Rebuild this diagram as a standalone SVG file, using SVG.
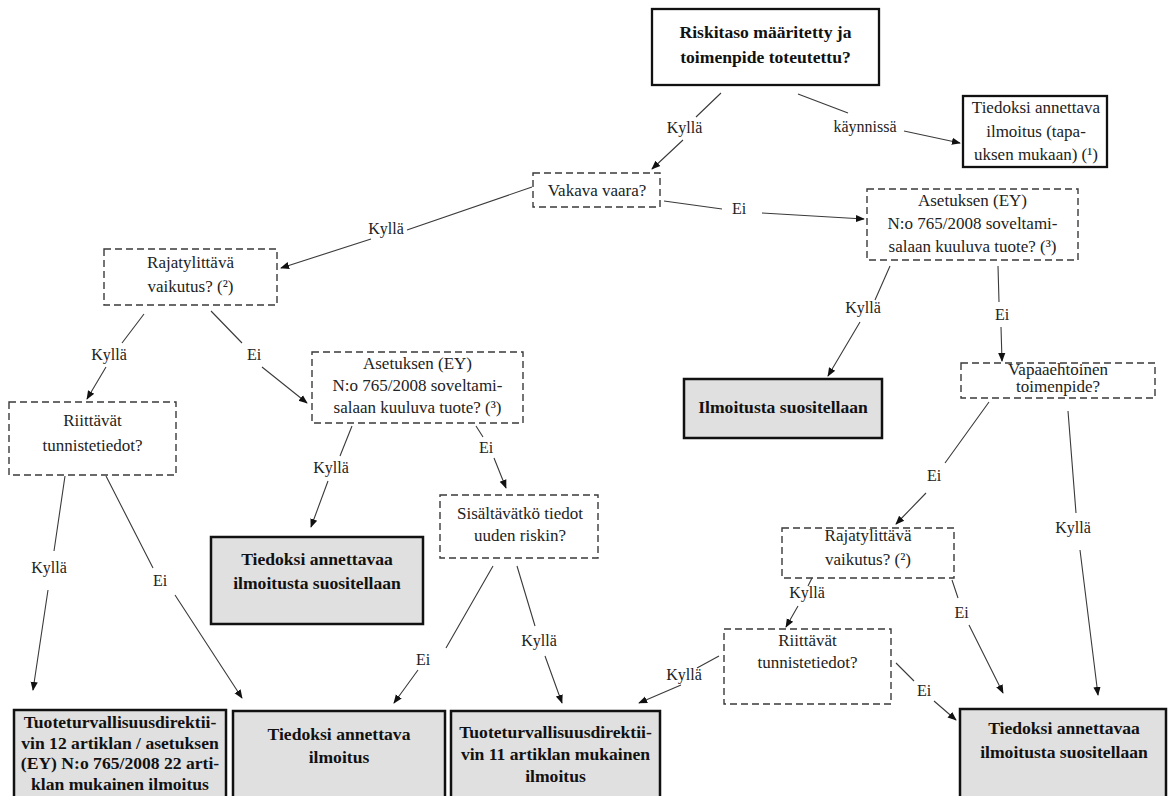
<svg xmlns="http://www.w3.org/2000/svg" width="1170" height="796" viewBox="0 0 1170 796">
<defs>
<marker id="ah" viewBox="0 0 10 10" refX="9" refY="5" markerWidth="9" markerHeight="9" markerUnits="userSpaceOnUse" orient="auto">
<path d="M0,1 L10,5 L0,9 Z" fill="#111"/>
</marker>
<style>
.q{fill:#fff;stroke:#3a3a3a;stroke-width:1.4;stroke-dasharray:7 4}
.w{fill:#fff;stroke:#111;stroke-width:2.3}
.g{fill:#e0e0e0;stroke:#111;stroke-width:2.5}
.t{font-family:"Liberation Serif","DejaVu Serif",serif;font-size:17px;fill:#222;text-anchor:middle}
.b{font-family:"Liberation Serif","DejaVu Serif",serif;font-size:17.6px;font-weight:bold;fill:#111;text-anchor:middle}
.l{font-family:"Liberation Serif","DejaVu Serif",serif;font-size:16px;fill:#222;text-anchor:middle}
.c{fill:none;stroke:#3a3a3a;stroke-width:1.1}
</style>
</defs>
<rect width="1170" height="796" fill="#fff"/>

<g id="connectors">
<path class="c" d="M721,93 L696,117 M683,140 L652,169" marker-end="url(#ah)"/>
<path class="c" d="M798,94 L848,113 M904,131 L960,143" marker-end="url(#ah)"/>
<path class="c" d="M664,201 L722,209 M762,213 L864,219" marker-end="url(#ah)"/>
<path class="c" d="M532,187 L407,230 M371,239 L281,268" marker-end="url(#ah)"/>
<path class="c" d="M890,266 L875,300 M860,322 L828,376" marker-end="url(#ah)"/>
<path class="c" d="M998,266 L999,302 M1001,327 L1002,361" marker-end="url(#ah)"/>
<path class="c" d="M144,314 L122,343 M106,367 L87,399" marker-end="url(#ah)"/>
<path class="c" d="M211,311 L242,343 M262,367 L307,403" marker-end="url(#ah)"/>
<path class="c" d="M352,426 L340,456 M328,481 L311,527" marker-end="url(#ah)"/>
<path class="c" d="M476,426 L483,437 M494,458 L506,488" marker-end="url(#ah)"/>
<path class="c" d="M989,402 L945,463 M926,493 L896,524" marker-end="url(#ah)"/>
<path class="c" d="M1068,411 L1076,513 M1080,550 L1098,695" marker-end="url(#ah)"/>
<path class="c" d="M65,476 L54,551 M48,590 L33,690" marker-end="url(#ah)"/>
<path class="c" d="M106,476 L153,568 M175,595 L242,698" marker-end="url(#ah)"/>
<path class="c" d="M493,566 L446,648 M418,670 L394,703" marker-end="url(#ah)"/>
<path class="c" d="M517,566 L535,626 M545,656 L562,703" marker-end="url(#ah)"/>
<path class="c" d="M812,578 L808,586 M798,606 L786,627" marker-end="url(#ah)"/>
<path class="c" d="M952,580 L958,598 M969,625 L1003,693" marker-end="url(#ah)"/>
<path class="c" d="M719,656 L697,668 M681,685 L639,703" marker-end="url(#ah)"/>
<path class="c" d="M896,663 L914,681 M934,701 L956,720" marker-end="url(#ah)"/>
</g>
<g id="labels">
<text class="l" x="684.5" y="133">Kyllä</text>
<text class="l" x="865" y="132">käynnissä</text>
<text class="l" x="739" y="214">Ei</text>
<text class="l" x="386" y="234">Kyllä</text>
<text class="l" x="863" y="313">Kyllä</text>
<text class="l" x="1002" y="320">Ei</text>
<text class="l" x="109" y="360">Kyllä</text>
<text class="l" x="254" y="360">Ei</text>
<text class="l" x="331" y="473">Kyllä</text>
<text class="l" x="486" y="453">Ei</text>
<text class="l" x="934" y="481">Ei</text>
<text class="l" x="1073" y="533">Kyllä</text>
<text class="l" x="49" y="573">Kyllä</text>
<text class="l" x="160" y="586">Ei</text>
<text class="l" x="423" y="665">Ei</text>
<text class="l" x="539" y="646">Kyllä</text>
<text class="l" x="807" y="598">Kyllä</text>
<text class="l" x="961.5" y="618">Ei</text>
<text class="l" x="684" y="680">Kyllä</text>
<text class="l" x="924" y="696">Ei</text>
</g>

<g id="n-start"><rect class="w" x="652" y="9" width="227" height="76"/>
<text class="b" x="765.5" y="38">Riskitaso määritetty ja</text>
<text class="b" x="765.5" y="63">toimenpide toteutettu?</text></g>

<g id="n-kaynnissa"><rect class="w" x="963" y="96" width="144" height="71"/>
<text class="t" x="1036" y="113">Tiedoksi annettava</text>
<text class="t" x="1036" y="137">ilmoitus (tapa-</text>
<text class="t" x="1036" y="160">uksen mukaan) (¹)</text></g>

<g id="n-vakava"><rect class="q" x="533" y="173" width="127" height="34"/>
<text class="t" x="597" y="196">Vakava vaara?</text></g>

<g id="n-asetus-r"><rect class="q" x="867" y="189" width="211" height="71"/>
<text class="t" x="972.5" y="206">Asetuksen (EY)</text>
<text class="t" x="972.5" y="229">N:o 765/2008 soveltami-</text>
<text class="t" x="972.5" y="252">salaan kuuluva tuote? (³)</text></g>

<g id="n-raja-l"><rect class="q" x="104" y="249" width="173" height="56"/>
<text class="t" x="190.5" y="268">Rajatylittävä</text>
<text class="t" x="190.5" y="292">vaikutus? (²)</text></g>

<g id="n-riitt-l"><rect class="q" x="9" y="402" width="167" height="73"/>
<text class="t" x="92.5" y="426">Riittävät</text>
<text class="t" x="92.5" y="451">tunnistetiedot?</text></g>

<g id="n-asetus-m"><rect class="q" x="312" y="352" width="211" height="71"/>
<text class="t" x="417.5" y="369">Asetuksen (EY)</text>
<text class="t" x="417.5" y="391">N:o 765/2008 soveltami-</text>
<text class="t" x="417.5" y="413">salaan kuuluva tuote? (³)</text></g>

<g id="n-ilm-suos"><rect class="g" x="684" y="379" width="198" height="59"/>
<text class="b" x="783" y="413">Ilmoitusta suositellaan</text></g>

<g id="n-vapaa"><rect class="q" x="961" y="363" width="194" height="35"/>
<text class="t" x="1058" y="375">Vapaaehtoinen</text>
<text class="t" x="1058" y="392">toimenpide?</text></g>

<g id="n-tied-suos-m"><rect class="g" x="211" y="537" width="212" height="87"/>
<text class="b" x="317" y="565">Tiedoksi annettavaa</text>
<text class="b" x="317" y="589">ilmoitusta suositellaan</text></g>

<g id="n-sisalt"><rect class="q" x="440" y="495" width="158" height="63"/>
<text class="t" x="520" y="519">Sisältävätkö tiedot</text>
<text class="t" x="520" y="541">uuden riskin?</text></g>

<g id="n-raja-r"><rect class="q" x="782" y="528" width="172" height="50"/>
<text class="t" x="868" y="541">Rajatylittävä</text>
<text class="t" x="868" y="565">vaikutus? (²)</text></g>

<g id="n-riitt-r"><rect class="q" x="724" y="629" width="167" height="75"/>
<text class="t" x="807.5" y="646">Riittävät</text>
<text class="t" x="807.5" y="668">tunnistetiedot?</text></g>

<g id="n-art12"><rect class="g" x="14" y="710" width="212" height="92"/>
<text class="b" x="120" y="728">Tuoteturvallisuusdirektii-</text>
<text class="b" x="120" y="748.5">vin 12 artiklan / asetuksen</text>
<text class="b" x="120" y="769">(EY) N:o 765/2008 22 arti-</text>
<text class="b" x="120" y="790">klan mukainen ilmoitus</text></g>

<g id="n-tied"><rect class="g" x="233" y="711" width="212" height="91"/>
<text class="b" x="339" y="740">Tiedoksi annettava</text>
<text class="b" x="339" y="763">ilmoitus</text></g>

<g id="n-art11"><rect class="g" x="451" y="711" width="209" height="91"/>
<text class="b" x="555.5" y="738">Tuoteturvallisuusdirektii-</text>
<text class="b" x="555.5" y="760">vin 11 artiklan mukainen</text>
<text class="b" x="555.5" y="782">ilmoitus</text></g>

<g id="n-tied-suos-r"><rect class="g" x="960" y="709" width="206" height="93"/>
<text class="b" x="1064" y="734">Tiedoksi annettavaa</text>
<text class="b" x="1064" y="758">ilmoitusta suositellaan</text></g>
</svg>
